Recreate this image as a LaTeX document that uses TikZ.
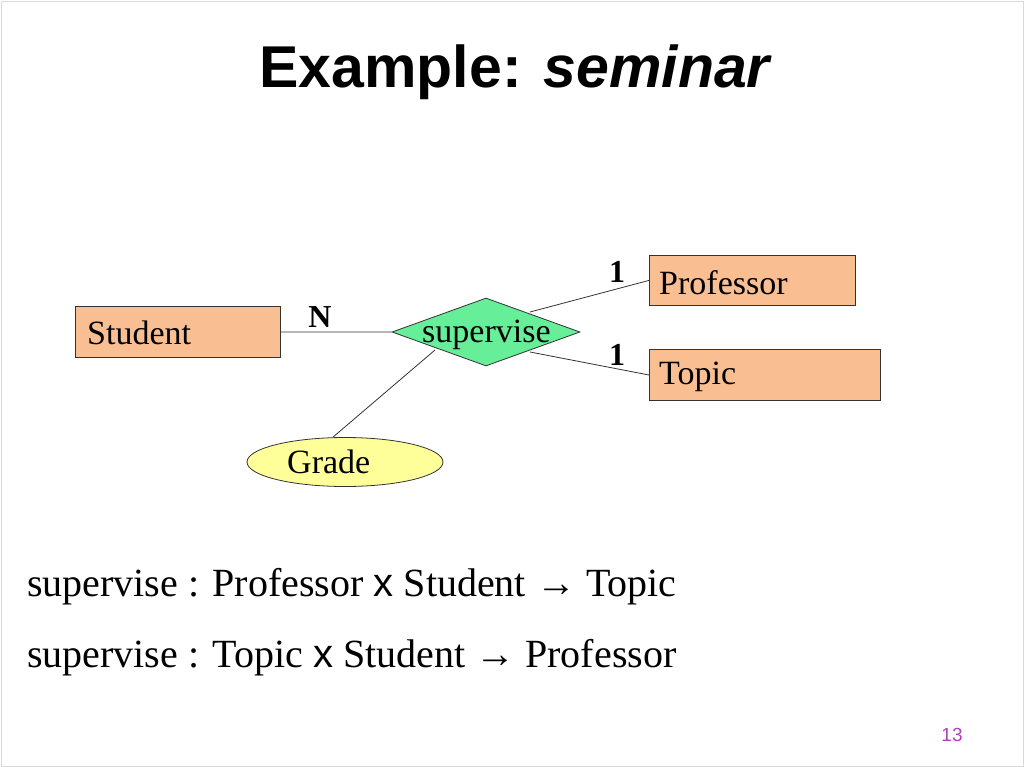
\documentclass[tikz,border=0pt]{standalone}
\usepackage{fontspec}
\setmainfont{Liberation Serif}
\newfontfamily\arial{Liberation Sans}
\usetikzlibrary{shapes.geometric}
\definecolor{ent}{HTML}{F9BF93}
\definecolor{rel}{HTML}{66EE99}
\definecolor{att}{HTML}{FFFF99}
\definecolor{pnum}{HTML}{B040C0}
\begin{document}
\begin{tikzpicture}[x=1pt,y=-1pt,
  entity/.style={draw=black!80,fill=ent,line width=0.8pt,anchor=north west,inner sep=0pt},
  relship/.style={draw=black!80,fill=rel,diamond,aspect=2.76,minimum width=188pt,minimum height=68pt,inner sep=0pt,line width=0.8pt},
  attrib/.style={draw=black!80,fill=att,ellipse,minimum width=196pt,minimum height=49pt,inner sep=0pt,line width=0.8pt},
  lbl/.style={font=\fontsize{34}{38}\selectfont,inner sep=0pt},
  conn/.style={draw=black!80,line width=0.8pt},
  card/.style={font=\bfseries\fontsize{32}{36}\selectfont}]
\useasboundingbox (0,0) rectangle (1024,767);
\draw[black!15] (1,1) rectangle (1023,766);
\node[font=\arial\bfseries\fontsize{59}{64}\selectfont] (title) at (516,72) {Example: \textit{seminar}};
\node[entity,minimum width=205pt,minimum height=51pt] (stu) at (75,306) {};
\node[lbl,anchor=west] (stut) at (87,333) {Student};
\node[entity,minimum width=206pt,minimum height=50pt] (prof) at (649,255) {};
\node[lbl,anchor=west] (proft) at (659,283) {Professor};
\node[entity,minimum width=231pt,minimum height=51pt] (top) at (649,349) {};
\node[lbl,anchor=west] (topt) at (659,377) {Topic};
\node[relship] (sup) at (486,332) {};
\node[lbl,anchor=west] (supt) at (422,335) {supervise};
\node[attrib] (gr) at (345,462) {};
\node[lbl,anchor=west] (grt) at (287,462) {Grade};
\draw[conn] (stu.east) -- (sup.west);
\draw[conn] (530,312) -- (prof.west);
\draw[conn] (530,352) -- (649,375);
\draw[conn] (gr.north) ++(-12,0) coordinate (g1) (g1) -- (435,350);
\node[card] (n) at (320,317) {N};
\node[card] (c1) at (617,272) {1};
\node[card] (c2) at (617,355) {1};
\node[anchor=west,inner sep=0pt,font=\fontsize{40}{44}\selectfont] (l1) at (27,587) {supervise : Professor {\arial x} Student → Topic};
\node[anchor=west,inner sep=0pt,font=\fontsize{40}{44}\selectfont] (l2) at (27,658) {supervise : Topic {\arial x} Student → Professor};
\node[font=\arial\fontsize{19}{22}\selectfont,text=pnum] (pg) at (952,735) {13};
\end{tikzpicture}
\end{document}
